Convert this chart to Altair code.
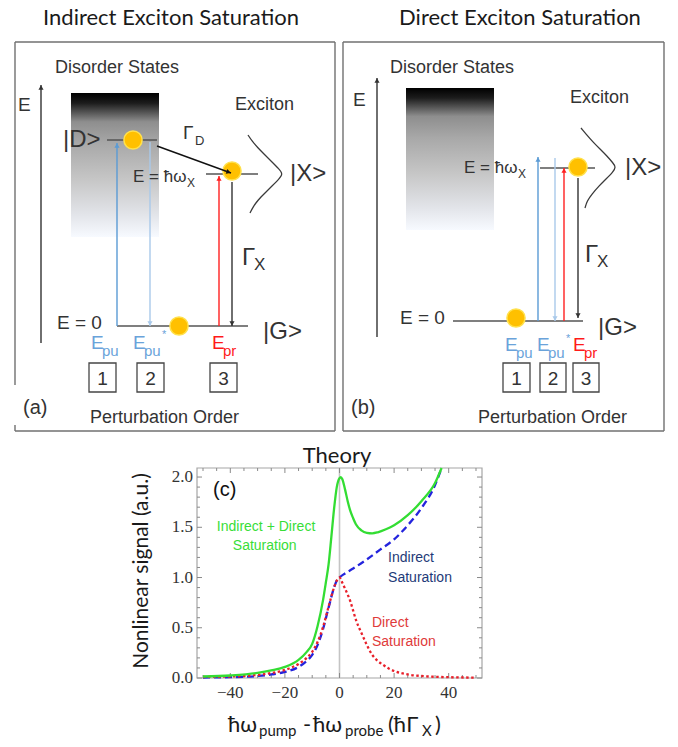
import math
import altair as alt
import pandas as pd

# ---------------- Panel (c): curves ----------------
direct_x = [-50, -40, -30, -25, -20, -15, -12, -10, -8, -6, -4, -2, -1, 0, 1, 2, 3, 4, 5, 6, 7, 8,
            10, 12, 14, 16, 18, 20, 25, 30, 40, 50]
direct_y = [0.010, 0.015, 0.030, 0.050, 0.080, 0.140, 0.200, 0.260, 0.360, 0.510, 0.710, 0.900, 0.970,
            1.000, 0.950, 0.890, 0.830, 0.760, 0.670, 0.580, 0.510, 0.450, 0.330, 0.230, 0.170, 0.130,
            0.095, 0.070, 0.035, 0.020, 0.008, 0.004]
indirect_x = [-50, -40, -30, -25, -20, -15, -12, -10, -8, -6, -4, -2, -1, 0, 2, 5, 10, 15, 20, 25, 30, 35, 37.4]
indirect_y = [0.005, 0.008, 0.020, 0.035, 0.060, 0.110, 0.170, 0.230, 0.330, 0.490, 0.700, 0.900, 0.970,
              1.000, 1.040, 1.090, 1.180, 1.280, 1.380, 1.520, 1.690, 1.920, 2.090]
total_x = [-50, -40, -30, -25, -20, -15, -12, -10, -8, -6, -5, -4, -3, -2, -1, 0, 0.5, 1, 2, 3, 4, 5, 6,
           8, 10, 12, 14, 17, 20, 25, 30, 35, 37.4]
total_y = [0.015, 0.025, 0.050, 0.075, 0.110, 0.180, 0.260, 0.340, 0.520, 0.780, 0.950, 1.130, 1.400,
           1.680, 1.900, 1.990, 2.000, 1.980, 1.880, 1.760, 1.660, 1.590, 1.530, 1.470, 1.445, 1.440,
           1.450, 1.480, 1.520, 1.620, 1.760, 1.940, 2.090]

x_major = [-40, -20, 0, 20, 40]
x_minor = [-50, -45, -35, -30, -25, -15, -10, -5, 5, 10, 15, 25, 30, 35, 45, 50]
y_major = [0.0, 0.5, 1.0, 1.5, 2.0]
y_minor = [0.1, 0.2, 0.3, 0.4, 0.6, 0.7, 0.8, 0.9, 1.1, 1.2, 1.3, 1.4, 1.6, 1.7, 1.8, 1.9]
x_tick_labels = ["\u221240", "\u221220", "0", "20", "40"]
y_tick_labels = ["0.0", "0.5", "1.0", "1.5", "2.0"]

c_label_text = ["(c)", "Indirect", "Saturation", "Direct", "Saturation"]
c_label_x = [-46.3, 17.8, 17.8, 11.9, 11.9]
c_label_y = [1.87, 1.19, 1.00, 0.55, 0.36]
c_label_col = ["#111111", "#1e3a78", "#1e3a78", "#e03a3a", "#e03a3a"]
green_label_text = ["Indirect + Direct", "Saturation"]
green_label_x = [-26.9, -27.4]
green_label_y = [1.50, 1.31]

# ---------------- Schematic panels (a), (b) in page pixels ----------------
grad_x1 = [71, 406]
grad_x2 = [159, 494]
grad_y1 = [93, 88]
grad_y2 = [237, 230]

frame_x1 = [15, 335, 15, 15, 15, 343, 664, 343, 343]
frame_y1 = [42, 42, 431, 42, 425, 42, 42, 431, 42]
frame_x2 = [335, 335, 335, 15, 15, 664, 664, 664, 343]
frame_y2 = [42, 431, 431, 385, 431, 42, 431, 431, 431]

box_x1 = [89, 137, 210, 503, 540, 573]
box_x2 = [116, 164, 237, 530, 566, 599]
box_y1 = [363] * 6
box_y2 = [392] * 6
box_num = ["1", "2", "3", "1", "2", "3"]

level_x1 = [107, 206, 117, 540, 453]
level_x2 = [157, 258, 248, 595, 583]
level_y = [140, 174, 326, 168, 321]

circle_x = [133, 232, 179, 578, 516]
circle_y = [140, 171, 326, 167, 318]

arrow_x1 = [41, 117, 150, 219, 232, 157, 377, 538, 555, 564, 578]
arrow_y1 = [343, 326, 142, 326, 182, 146, 337, 321, 158, 321, 178]
arrow_x2 = [41, 117, 150, 219, 232, 231, 377, 538, 555, 564, 578]
arrow_y2 = [85, 143, 326, 176, 326, 173, 78, 157, 321, 168, 318]
arrow_col = ["#333333", "#5b9bd5", "#a9c9ea", "#ff2020", "#333333", "#111111",
             "#333333", "#5b9bd5", "#a9c9ea", "#ff2020", "#333333"]

lineshape_a_x = [248, 252, 258, 265, 272, 279, 283, 279, 272, 265, 258, 253, 250]
lineshape_a_y = [135, 141, 148, 155, 162, 169, 174, 179, 186, 193, 200, 207, 213]
lineshape_b_x = [581, 586, 593, 600, 607, 613, 616, 613, 606, 599, 592, 587, 585]
lineshape_b_y = [128, 134, 142, 149, 156, 163, 167, 172, 179, 186, 194, 201, 208]

DARK = "#333333"
BLUE = "#6aa3da"
RED = "#ff1a1a"
diag_text = ["Disorder States", "E", "|D>", "Γ", "D", "E = ħω", "X", "Exciton", "|X>", "Γ", "X",
             "E = 0", "|G>", "E", "pu", "E", "pu", "*", "E", "pr", "(a)", "Perturbation Order",
             "Disorder States", "E", "Exciton", "E = ħω", "X", "|X>", "Γ", "X", "E = 0", "|G>",
             "E", "pu", "E", "pu", "*", "E", "pr", "(b)", "Perturbation Order"]
diag_tx = [55, 18, 63, 183, 195, 133, 187, 235, 290, 242, 254, 57, 263, 91, 102, 133, 144, 162, 212, 223, 23, 90,
           390, 353, 570, 464, 518, 625, 585, 597, 400, 598, 505, 516, 537, 548, 566, 573, 584, 351, 478]
diag_ty = [68, 105, 140, 133, 141, 177, 183, 105, 174, 258, 265, 323, 332, 343, 351, 343, 351, 335, 343, 351, 408, 418,
           68, 100, 98, 168, 174, 168, 255, 262, 318, 328, 345, 353, 345, 353, 339, 345, 353, 408, 418]
diag_ts = [18, 19, 24, 19, 13, 17, 12, 18, 24, 24, 17, 19, 24, 19, 15, 19, 15, 11, 19, 15, 20, 18,
           18, 19, 18, 17, 12, 24, 24, 17, 19, 24, 19, 15, 19, 15, 11, 19, 15, 20, 18]
diag_tc = [DARK] * 13 + [BLUE] * 5 + [RED] * 2 + [DARK] * 2 + [DARK] * 10 + [BLUE] * 5 + [RED] * 2 + [DARK] * 2

titles = ["Indirect Exciton Saturation", "Direct Exciton Saturation", "Theory"]
title_x = [171, 520, 337]
title_y = [25, 25, 463]

xtitle_text = ["ħω", "pump", "-", "ħω", "probe", "(ħΓ", "X", ")"]
xtitle_x = [228, 259, 303, 313, 345, 388, 422, 435]
xtitle_y = [725, 731, 725, 725, 731, 725, 731, 725]
xtitle_s = [22, 15, 22, 22, 15, 22, 15, 22]

# ---------------- geometry of the canvas ----------------
OX, OY = 8, 8
W, H = 662, 670
DX = alt.Scale(domain=[OX, OX + W], range=[0, W], nice=False, zero=False)
DY = alt.Scale(domain=[OY, OY + H], range=[0, H], nice=False, zero=False)

C_LEFT, C_RIGHT, C_TOP, C_BOTTOM = 197, 482, 468, 678
XDOM = [-52.2, 52.2]
YDOM = [0.0, 2.09]
XC = alt.Scale(domain=XDOM, range=[C_LEFT - OX, C_RIGHT - OX], nice=False, zero=False)
YC = alt.Scale(domain=YDOM, range=[C_BOTTOM - OY, C_TOP - OY], nice=False, zero=False)


def px(f):
    return alt.X(f, type="quantitative", scale=DX, axis=None)


def py(f):
    return alt.Y(f, type="quantitative", scale=DY, axis=None)


def cx(f):
    return alt.X(f, type="quantitative", scale=XC, axis=None)


def cy(f):
    return alt.Y(f, type="quantitative", scale=YC, axis=None)


# ---------------- diagram layers ----------------
grad = alt.LinearGradient(
    gradient="linear", x1=0, x2=0, y1=0, y2=1,
    stops=[alt.GradientStop(offset=0, color="#000000"),
           alt.GradientStop(offset=0.07, color="#1c1c1c"),
           alt.GradientStop(offset=0.2, color="#8e8e8e"),
           alt.GradientStop(offset=0.35, color="#a8a8a8"),
           alt.GradientStop(offset=0.6, color="#c6c6c6"),
           alt.GradientStop(offset=0.85, color="#e3e5ea"),
           alt.GradientStop(offset=1, color="#f7faff")])
g_df = pd.DataFrame({"x": grad_x1, "x2": grad_x2, "y": grad_y1, "y2": grad_y2})
l_grad = alt.Chart(g_df).mark_rect(fill=grad).encode(px("x"), alt.X2("x2"), py("y"), alt.Y2("y2"))

f_df = pd.DataFrame({"x": frame_x1, "y": frame_y1, "x2": frame_x2, "y2": frame_y2})
l_frame = alt.Chart(f_df).mark_rule(color="#707070", strokeWidth=1.4).encode(
    px("x"), alt.X2("x2"), py("y"), alt.Y2("y2"))

b_df = pd.DataFrame({"x": box_x1, "x2": box_x2, "y": box_y1, "y2": box_y2, "n": box_num})
l_box = alt.Chart(b_df).mark_rect(fill="white", stroke="#454545", strokeWidth=1.3).encode(
    px("x"), alt.X2("x2"), py("y"), alt.Y2("y2"))
b_df["cx"] = [(a + b) / 2 for a, b in zip(box_x1, box_x2)]
b_df["cy"] = [(a + b) / 2 + 1 for a, b in zip(box_y1, box_y2)]
l_boxnum = alt.Chart(b_df).mark_text(font="Liberation Sans", fontSize=19, color="#333333",
                                     align="center", baseline="middle").encode(
    px("cx"), py("cy"), text="n:N")

lv_df = pd.DataFrame({"x": level_x1, "x2": level_x2, "y": level_y})
l_level = alt.Chart(lv_df).mark_rule(color="#555555", strokeWidth=1.5).encode(
    px("x"), alt.X2("x2"), py("y"))

ls_df = pd.DataFrame({
    "x": lineshape_a_x + lineshape_b_x,
    "y": lineshape_a_y + lineshape_b_y,
    "p": ["a"] * len(lineshape_a_x) + ["b"] * len(lineshape_b_x),
    "i": list(range(len(lineshape_a_x))) + list(range(len(lineshape_b_x))),
})
l_shape = alt.Chart(ls_df).mark_line(color="#3a3a3a", strokeWidth=1.3, interpolate="basis").encode(
    px("x"), py("y"), detail="p:N", order="i:Q")

c_df = pd.DataFrame({"x": circle_x, "y": circle_y})
l_circ = alt.Chart(c_df).mark_point(filled=True, size=330, fill="#ffc000", stroke="#ffe14d",
                                    strokeWidth=1.5, opacity=1, shape="circle").encode(px("x"), py("y"))

a_df = pd.DataFrame({"x": arrow_x1, "y": arrow_y1, "x2": arrow_x2, "y2": arrow_y2, "c": arrow_col})
l_arrow = alt.Chart(a_df).mark_rule(strokeWidth=1.4).encode(
    px("x"), alt.X2("x2"), py("y"), alt.Y2("y2"), color=alt.Color("c:N", scale=None))

hx, hy, ha = [], [], []
for x1, y1, x2, y2 in zip(arrow_x1, arrow_y1, arrow_x2, arrow_y2):
    L = math.hypot(x2 - x1, y2 - y1)
    ux, uy = (x2 - x1) / L, (y2 - y1) / L
    hx.append(x2 - 2.5 * ux)
    hy.append(y2 - 2.5 * uy)
    ha.append(math.degrees(math.atan2(ux, -uy)) % 360)
h_df = pd.DataFrame({"x": hx, "y": hy, "a": ha, "c": arrow_col})
l_head = alt.Chart(h_df).mark_point(shape="triangle-up", filled=True, size=26, opacity=1).encode(
    px("x"), py("y"), angle=alt.Angle("a:Q", scale=None), color=alt.Color("c:N", scale=None))

t_df = pd.DataFrame({"x": diag_tx, "y": diag_ty, "t": diag_text, "s": diag_ts, "c": diag_tc})
l_text = alt.Chart(t_df).mark_text(font="Liberation Sans", align="left", baseline="middle").encode(
    px("x"), py("y"), text="t:N", size=alt.Size("s:Q", scale=None), color=alt.Color("c:N", scale=None))

ti_df = pd.DataFrame({"x": title_x, "y": title_y, "t": titles})
l_title = alt.Chart(ti_df).mark_text(font="Lato, Open Sans", fontSize=22, color="#1a1a1a",
                                     align="center", baseline="alphabetic").encode(px("x"), py("y"), text="t:N")

yt_df = pd.DataFrame({"x": [142], "y": [571], "t": ["Nonlinear signal (a.u.)"]})
l_ytitle = alt.Chart(yt_df).mark_text(font="Lato, Open Sans", fontSize=21, color="#1a1a1a", angle=270,
                                      align="center", baseline="middle").encode(px("x"), py("y"), text="t:N")

xt_df = pd.DataFrame({"x": xtitle_x, "y": xtitle_y, "t": xtitle_text, "s": xtitle_s})
l_xtitle = alt.Chart(xt_df).mark_text(font="Lato, Open Sans", color="#1a1a1a", align="left",
                                      baseline="middle").encode(
    px("x"), py("y"), text="t:N", size=alt.Size("s:Q", scale=None))

diagram = alt.layer(l_grad, l_frame, l_level, l_shape, l_circ, l_arrow, l_head, l_box, l_boxnum,
                    l_text, l_title, l_ytitle, l_xtitle)

# ---------------- plot (c) layers ----------------
one = pd.DataFrame({"k": [0]})
l_cframe = alt.Chart(one).mark_rect(fillOpacity=0, stroke="#a6a6a6", strokeWidth=1.2).encode(
    x=alt.value(C_LEFT - OX), x2=alt.value(C_RIGHT - OX), y=alt.value(C_TOP - OY), y2=alt.value(C_BOTTOM - OY))

z_df = pd.DataFrame({"x": [0], "y": [YDOM[0]], "y2": [YDOM[1]]})
l_zero = alt.Chart(z_df).mark_rule(color="#c4c4c4", strokeWidth=1.6).encode(cx("x"), cy("y"), alt.Y2("y2"))

ppy = (YDOM[1] - YDOM[0]) / (C_BOTTOM - C_TOP)
ppx = (XDOM[1] - XDOM[0]) / (C_RIGHT - C_LEFT)
tv, t1, t2 = [], [], []
for v in x_major + x_minor:
    ln = 5 if v in x_major else 3
    tv += [v, v]
    t1 += [YDOM[0], YDOM[1]]
    t2 += [YDOM[0] + ln * ppy, YDOM[1] - ln * ppy]
xt_df2 = pd.DataFrame({"v": tv, "a": t1, "b": t2})
l_xticks = alt.Chart(xt_df2).mark_rule(color="#8a8a8a", strokeWidth=1).encode(cx("v"), cy("a"), alt.Y2("b"))
tv, t1, t2 = [], [], []
for v in y_major + y_minor:
    ln = 5 if v in y_major else 3
    tv += [v, v]
    t1 += [XDOM[0], XDOM[1]]
    t2 += [XDOM[0] + ln * ppx, XDOM[1] - ln * ppx]
yt_df2 = pd.DataFrame({"v": tv, "a": t1, "b": t2})
l_yticks = alt.Chart(yt_df2).mark_rule(color="#8a8a8a", strokeWidth=1).encode(cy("v"), cx("a"), alt.X2("b"))

xl_df = pd.DataFrame({"v": x_major, "t": x_tick_labels})
l_xlab = alt.Chart(xl_df).mark_text(font="Liberation Serif", fontSize=17, color="#333333",
                                    align="center", baseline="middle").encode(
    cx("v"), y=alt.value(C_BOTTOM - OY + 15), text="t:N")
yl_df = pd.DataFrame({"v": y_major, "t": y_tick_labels})
l_ylab = alt.Chart(yl_df).mark_text(font="Liberation Serif", fontSize=17, color="#333333",
                                    align="right", baseline="middle").encode(
    cy("v"), x=alt.value(C_LEFT - OX - 4), text="t:N")

ind_df = pd.DataFrame({"x": indirect_x, "y": indirect_y})
l_ind = alt.Chart(ind_df).mark_line(color="#2424dd", strokeWidth=2.3, strokeDash=[7, 4],
                                    interpolate="monotone").encode(cx("x"), cy("y"))
dir_df = pd.DataFrame({"x": direct_x, "y": direct_y})
l_dir = alt.Chart(dir_df).mark_line(color="#e8202a", strokeWidth=2.3, strokeDash=[2.5, 2.5],
                                    interpolate="monotone").encode(cx("x"), cy("y"))
tot_df = pd.DataFrame({"x": total_x, "y": total_y})
l_tot = alt.Chart(tot_df).mark_line(color="#33dd33", strokeWidth=2.3, interpolate="monotone").encode(
    cx("x"), cy("y"))

cl_df = pd.DataFrame({"x": c_label_x, "y": c_label_y, "t": c_label_text, "c": c_label_col,
                      "s": [20, 14, 14, 14, 14]})
l_clab = alt.Chart(cl_df).mark_text(font="Liberation Sans", align="left", baseline="middle").encode(
    cx("x"), cy("y"), text="t:N",
    color=alt.Color("c:N", scale=None), size=alt.Size("s:Q", scale=None))
gl_df = pd.DataFrame({"x": green_label_x, "y": green_label_y, "t": green_label_text})
l_glab = alt.Chart(gl_df).mark_text(font="Liberation Sans", align="center", baseline="middle",
                                    fontSize=14, color="#38dd38").encode(cx("x"), cy("y"), text="t:N")

plot_c = alt.layer(l_cframe, l_zero, l_xticks, l_yticks, l_xlab, l_ylab, l_ind, l_dir, l_tot, l_clab, l_glab)

chart = alt.layer(diagram, plot_c).resolve_scale(x="independent", y="independent").properties(
    width=W, height=H,
    autosize=alt.AutoSizeParams(type="none"),
    padding={"left": 0, "top": 0, "right": 0, "bottom": 61},
    background="white",
).configure_view(strokeWidth=0)

chart.save("out.html", embed_options={"renderer": "svg", "actions": False})
